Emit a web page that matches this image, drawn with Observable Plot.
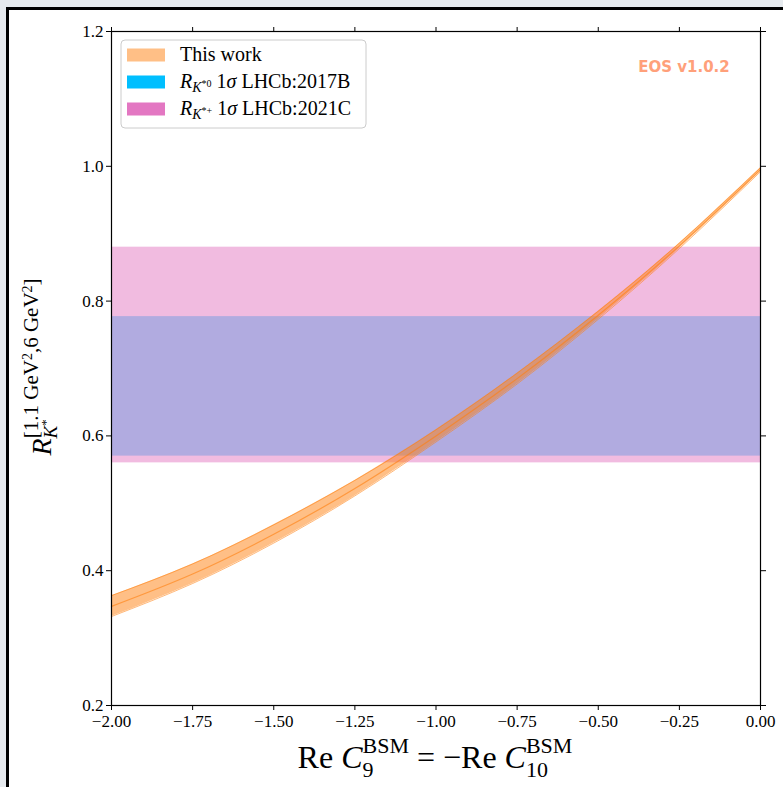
<!DOCTYPE html>
<html>
<head>
<meta charset="utf-8">
<script src="https://cdn.jsdelivr.net/npm/d3@7"></script>
<script src="https://cdn.jsdelivr.net/npm/@observablehq/plot@0.6"></script>
<style>
html, body { margin: 0; padding: 0; background: #e6eaee; width: 783px; height: 787px; overflow: hidden; }
#panel { position: absolute; left: 6px; top: 7px; width: 777px; height: 780px; background: #fff;
  border-left: 3px solid #000; border-top: 3px solid #000; box-sizing: border-box; }
#chart { position: absolute; left: 0; top: 0; }
</style>
</head>
<body>
<div id="panel"><div id="chart"></div></div>
<script>
// ---- data ----
const xTicks = [-2.0, -1.75, -1.5, -1.25, -1.0, -0.75, -0.5, -0.25, 0.0];
const yTicks = [0.2, 0.4, 0.6, 0.8, 1.0, 1.2];

const workX      = [-2.0, -1.75, -1.5, -1.25, -1.0, -0.75, -0.5, -0.25, 0.0];
const workCenter = [0.347, 0.395, 0.454, 0.522, 0.600, 0.685, 0.779, 0.882, 0.995];
const workLower  = [0.332, 0.381, 0.441, 0.511, 0.591, 0.677, 0.773, 0.878, 0.992];
const workUpper  = [0.363, 0.410, 0.468, 0.534, 0.609, 0.693, 0.785, 0.886, 0.998];

const bandNames  = ["R_K*0 1σ LHCb:2017B", "R_K*+ 1σ LHCb:2021C"];
const bandLow    = [0.570, 0.560];
const bandHigh   = [0.777, 0.880];
const bandColors = ["#00bfff", "#e377c2"];

const workColor = "#ff7f0e";
const watermark = "EOS v1.0.2";

// ---- tables built from the arrays ----
const work = workX.map((x, i) => ({x, lo: workLower[i], mid: workCenter[i], hi: workUpper[i]}));
const bands = bandNames.map((name, i) => ({name, lo: bandLow[i], hi: bandHigh[i], color: bandColors[i]}));

const fmtX = d3.format(".2f");
const fmtY = d3.format(".1f");

const chart = Plot.plot({
  width: 774,
  height: 777,
  marginLeft: 102,
  marginRight: 23,
  marginTop: 21,
  marginBottom: 82,
  x: {domain: [-2, 0]},
  y: {domain: [0.2, 1.2]},
  style: {background: "white", fontFamily: "Liberation Serif", color: "black"},
  marks: [
    Plot.rect(bands.slice(0, 1), {y1: "lo", y2: "hi", fill: bandColors[0], fillOpacity: 0.5}),
    Plot.rect(bands.slice(1, 2), {y1: "lo", y2: "hi", fill: bandColors[1], fillOpacity: 0.5}),
    Plot.areaY(work, {x: "x", y1: "lo", y2: "hi", fill: workColor, fillOpacity: 0.5, curve: "natural"}),
    Plot.line(work, {x: "x", y: "lo", stroke: workColor, strokeOpacity: 0.55, strokeWidth: 1, curve: "natural"}),
    Plot.line(work, {x: "x", y: "hi", stroke: workColor, strokeOpacity: 0.55, strokeWidth: 1, curve: "natural"}),
    Plot.line(work, {x: "x", y: "mid", stroke: workColor, strokeOpacity: 0.6, strokeWidth: 1.2, curve: "natural"}),
    Plot.axisX(xTicks, {anchor: "bottom", tickSize: 5, tickPadding: 4, tickFormat: fmtX, label: null, fontSize: 17}),
    Plot.axisX(xTicks, {anchor: "top", tickSize: 5, tickFormat: () => "", label: null}),
    Plot.axisY(yTicks, {anchor: "left", tickSize: 5, tickPadding: 3, tickFormat: fmtY, label: null, fontSize: 17}),
    Plot.axisY(yTicks, {anchor: "right", tickSize: 5, tickFormat: () => "", label: null}),
    Plot.frame({stroke: "black", strokeWidth: 1.2})
  ]
});
document.getElementById("chart").appendChild(chart);

const svg = d3.select(chart);

// x label: Re C9^BSM = −Re C10^BSM
{
  const t = svg.append("text").attr("x", 426).attr("y", 758).attr("text-anchor", "middle")
    .attr("font-family", "Liberation Serif").attr("font-size", 32).attr("fill", "black");
  t.append("tspan").text("Re ");
  t.append("tspan").attr("font-style", "italic").text("C");
  t.append("tspan").attr("font-size", 22).attr("dy", 9).text("9");
  t.append("tspan").attr("font-size", 22).attr("dx", -11).attr("dy", -24).text("BSM");
  t.append("tspan").attr("dy", 15).text(" = \u2212Re ");
  t.append("tspan").attr("font-style", "italic").text("C");
  t.append("tspan").attr("font-size", 22).attr("dy", 9).text("10");
  t.append("tspan").attr("font-size", 22).attr("dx", -22).attr("dy", -24).text("BSM");
}

// y label: R_{K*}^{[1.1 GeV², 6 GeV²]}
{
  const g = svg.append("g").attr("transform", "translate(42,357) rotate(-90)");
  const t = g.append("text").attr("text-anchor", "middle")
    .attr("font-family", "Liberation Serif").attr("font-size", 28).attr("fill", "black");
  t.append("tspan").attr("font-style", "italic").text("R");
  t.append("tspan").attr("font-style", "italic").attr("font-size", 19).attr("dy", 6).text("K");
  t.append("tspan").attr("font-size", 13).attr("dy", -7).text("*");
  t.append("tspan").attr("font-size", 21).attr("dx", -19).attr("dy", -12).text("[1.1 GeV");
  t.append("tspan").attr("font-size", 14).attr("dy", -6).text("2");
  t.append("tspan").attr("font-size", 21).attr("dy", 6).text(",6 GeV");
  t.append("tspan").attr("font-size", 14).attr("dy", -6).text("2");
  t.append("tspan").attr("font-size", 21).attr("dy", 6).text("]");
}

// legend
{
  const g = svg.append("g");
  g.append("rect").attr("x", 112).attr("y", 30).attr("width", 245).attr("height", 88).attr("rx", 4)
    .attr("fill", "white").attr("fill-opacity", 0.8).attr("stroke", "#cccccc");
  const rows = [45, 72, 99];
  const swatches = [[workColor, 0.5], [bandColors[0], 1], [bandColors[1], 1]];
  rows.forEach((cy, i) => {
    g.append("rect").attr("x", 118).attr("y", cy - 6.5).attr("width", 38).attr("height", 13)
      .attr("fill", swatches[i][0]).attr("fill-opacity", swatches[i][1]);
  });
  const mk = (cy) => g.append("text").attr("x", 171).attr("y", cy + 6).attr("text-anchor", "start")
    .attr("font-family", "Liberation Serif").attr("font-size", 20).attr("fill", "black");
  mk(rows[0]).text("This work");
  const sub = [["*0", "2017B"], ["*+", "2021C"]];
  [1, 2].forEach((r, j) => {
    const t = mk(rows[r]);
    t.append("tspan").attr("font-style", "italic").text("R");
    t.append("tspan").attr("font-style", "italic").attr("font-size", 14).attr("dy", 4).text("K");
    t.append("tspan").attr("font-size", 10).attr("dy", -5).text(sub[j][0]);
    t.append("tspan").attr("dy", 1).text(" 1");
    t.append("tspan").attr("font-style", "italic").text("σ");
    t.append("tspan").text(" LHCb:" + sub[j][1]);
  });
}

// watermark
svg.append("text").attr("x", 675).attr("y", 62).attr("text-anchor", "middle")
  .attr("font-family", "DejaVu Sans").attr("font-weight", "bold").attr("font-size", 15)
  .attr("fill", "#ffa07a").text(watermark);
</script>
</body>
</html>
